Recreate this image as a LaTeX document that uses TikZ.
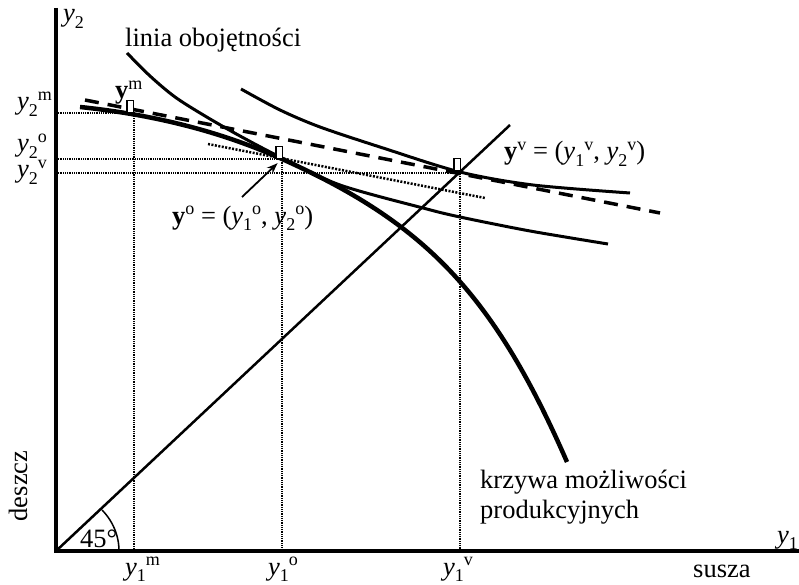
\documentclass[tikz,border=0pt]{standalone}
\usepackage{fontspec}
\setmainfont{Liberation Serif}
\usetikzlibrary{arrows.meta}
\newcommand\sbs[1]{\raisebox{-0.25em}{\fontsize{18}{18}\selectfont #1}}
\newcommand\sps[1]{\raisebox{0.34em}{\fontsize{18}{18}\selectfont #1}}
\begin{document}
\begin{tikzpicture}[x=1pt,y=-1pt,
  lbl/.style={inner sep=0pt, font=\fontsize{26.5}{30}\selectfont},
  axis/.style={line width=3.5pt, line join=miter},
  guide/.style={line width=1.3pt, dash pattern=on 1pt off 0.8pt},
  frontier/.style={line width=4.5pt},
  indiff/.style={line width=3pt},
  budget/.style={line width=3.5pt, dash pattern=on 14pt off 9pt},
  tangent/.style={line width=2.5pt, dash pattern=on 2pt off 1.5pt},
  diag/.style={line width=2.5pt},
  marker/.style={draw, fill=white, line width=1.1pt, inner sep=0pt, minimum width=6.5pt, minimum height=12pt, anchor=south east},
  pointer/.style={line width=1.8pt, -{Stealth[length=11pt,width=8pt]}, shorten >=6pt},
]
\useasboundingbox (0,0) rectangle (799,585);
% key points
\coordinate (O) at (56,551);
\coordinate (ytop) at (56,8);
\coordinate (xend) at (799,551);
\coordinate (D) at (510,125);
\coordinate (ym) at (134,113);
\coordinate (yo) at (282,159);
\coordinate (yv) at (460,173);
\coordinate (tail) at (242,197);
\coordinate (b1) at (85,100);
\coordinate (b2) at (660,213);
\coordinate (t1) at (208,144);
\coordinate (t2) at (485,198);
\coordinate (f0) at (80,107);
\coordinate (f1) at (567,462);

% guide lines
\draw[guide] (O |- ym) -- (ym) -- (ym |- O);
\draw[guide] (O |- yo) -- (yo) -- (yo |- O);
\draw[guide] (O |- yv) -- (yv) -- (yv |- O);

% 45 degree line and arc
\draw[diag] (O) -- (D);
\draw[line width=1.5pt] plot[domain=0:43, samples=30] ({56+63*cos(\x)}, {551-60*sin(\x)});

% budget (dashed) and tangent (dotted)
\draw[budget] (b1) -- (b2);
\draw[tangent] (t1) -- (t2);

% indifference curves
\draw[indiff] plot[smooth] coordinates {(127,53) (150,76) (175,97) (205,116) (240,136) (282,158) (340,185) (423,208) (460,217) (530,231) (608,244)};
\draw[indiff] plot[smooth] coordinates {(241,89) (280,110) (320,127) (383,148) (460,172) (533,185) (630,193)};

% production possibility frontier
\draw[frontier] (f0) .. controls (147,114) and (215,129) .. (yo)
                     .. controls (422,222) and (492,290) .. (f1);

% axes
\draw[axis] (ytop) -- (O) -- (xend);

% markers
\node[marker] (mm) at (ym) {};
\node[marker] (mo) at ([xshift=1pt]yo) {};
\node[marker] (mv) at ([xshift=1pt,yshift=2pt]yv) {};

% arrow
\draw[pointer] (tail) -- (yo);

% labels
\node[lbl, anchor=base west] (ly2) at (63,22) {\textit{y}\sbs{2}};
\node[lbl, anchor=base west] (lind) at (125,47) {linia obojętności};
\node[lbl, anchor=base west] (lym) at (115,99) {\textbf{y}\sps{m}};
\node[lbl, anchor=base west] (ly2m) at (17,110) {\textit{y}\sbs{2}\sps{m}};
\node[lbl, anchor=base west] (ly2o) at (17,152) {\textit{y}\sbs{2}\sps{o}};
\node[lbl, anchor=base west] (ly2v) at (17,178) {\textit{y}\sbs{2}\sps{v}};
\node[lbl, anchor=base west] (lyo) at (172,224) {\textbf{y}\sps{o} = (\textit{y}\sbs{1}\sps{o}, \textit{y}\sbs{2}\sps{o})};
\node[lbl, anchor=base west] (lyv) at (504,160) {\textbf{y}\sps{v} = (\textit{y}\sbs{1}\sps{v}, \textit{y}\sbs{2}\sps{v})};
\node[lbl, anchor=base west] (l45) at (80,547) {45°};
\node[lbl, anchor=base west] (ly1m) at (125,575) {\textit{y}\sbs{1}\sps{m}};
\node[lbl, anchor=base west] (ly1o) at (268,575) {\textit{y}\sbs{1}\sps{o}};
\node[lbl, anchor=base west] (ly1v) at (443,575) {\textit{y}\sbs{1}\sps{v}};
\node[lbl, anchor=base west] (lsusza) at (693,577) {susza};
\node[lbl, anchor=base west] (ly1) at (777,543) {\textit{y}\sbs{1}};
\node[lbl, rotate=90] (ldeszcz) at (18,486) {deszcz};
\node[lbl, anchor=base west] (lkr1) at (480,488) {krzywa możliwości};
\node[lbl, anchor=base west] (lkr2) at (480,518) {produkcyjnych};
\end{tikzpicture}
\end{document}
